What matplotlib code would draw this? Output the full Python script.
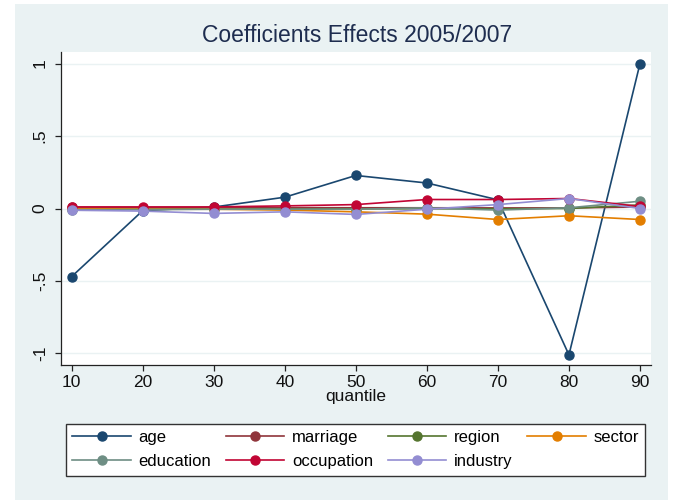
import matplotlib
matplotlib.use("Agg")
import matplotlib.pyplot as plt
from matplotlib.patches import Rectangle

plt.rcParams['font.family'] = ['Liberation Sans', 'DejaVu Sans']

quantiles = [10, 20, 30, 40, 50, 60, 70, 80, 90]

age        = [-0.47, -0.015, 0.010, 0.078, 0.228, 0.176, 0.060, -1.010, 1.000]
marriage   = [0.008, 0.006, 0.006, 0.006, 0.005, 0.005, 0.004, 0.004, 0.010]
region     = [-0.005, -0.005, -0.003, -0.003, -0.002, -0.002, -0.002, 0.000, 0.025]
sector     = [0.000, -0.005, -0.005, -0.011, -0.023, -0.039, -0.076, -0.050, -0.076]
education  = [-0.008, -0.008, -0.005, -0.005, -0.005, 0.005, -0.011, 0.005, 0.050]
occupation = [0.011, 0.011, 0.011, 0.018, 0.027, 0.062, 0.062, 0.069, 0.014]
industry   = [-0.012, -0.018, -0.034, -0.023, -0.041, -0.005, 0.027, 0.069, 0.000]

series = [
    ("age", age, "#1A476F"),
    ("marriage", marriage, "#90353B"),
    ("region", region, "#55752F"),
    ("sector", sector, "#E37E00"),
    ("education", education, "#6E8E84"),
    ("occupation", occupation, "#C10534"),
    ("industry", industry, "#938DD2"),
]

W, H = 677, 500
fig = plt.figure(figsize=(W / 100, H / 100), dpi=100, facecolor="white")

# light bluish-gray graph region
fig.patches.append(Rectangle((15 / W, 0), (668 - 15) / W, (500 - 4) / H,
                             transform=fig.transFigure, facecolor="#EAF2F3",
                             edgecolor="none", zorder=-10))

ax = fig.add_axes([61 / W, 1 - 365 / H, (651 - 61) / W, (365 - 52) / H])
ax.set_facecolor("white")

handles = {}
for name, vals, color in series:
    (ln,) = ax.plot(quantiles, vals, color=color, lw=1.2, marker="o",
                    markersize=6.5, label=name, zorder=3)
    handles[name] = ln

ax.set_xlim(8.5, 91.55)
ax.set_ylim(-1.08, 1.08)
ax.set_xticks(quantiles)
ax.set_xticklabels([str(q) for q in quantiles])
yt = [-1, -0.5, 0, 0.5, 1]
ax.set_yticks(yt)
ax.set_yticklabels(["-1", "-.5", "0", ".5", "1"], rotation=90, va="center")

for y in yt:
    ax.axhline(y, color="#EAF2F3", lw=1.0, zorder=1)

for s in ("top", "right"):
    ax.spines[s].set_visible(False)
for s in ("left", "bottom"):
    ax.spines[s].set_color("#222222")
    ax.spines[s].set_linewidth(0.9)

ax.tick_params(axis="both", direction="out", length=4.5, width=0.9,
               color="#222222", labelsize=12.5, labelcolor="#111111")
ax.tick_params(axis="y", pad=5)
ax.tick_params(axis="x", pad=3)
ax.set_xlabel("quantile", fontsize=12.5, color="#111111", labelpad=-1)

fig.text(357 / W, 1 - 36 / H, "Coefficients Effects 2005/2007", ha="center",
         va="center", fontsize=16.5, color="#1E2D4F")

order = ["age", "education", "marriage", "occupation", "region", "industry", "sector"]
leg = fig.legend([handles[n] for n in order], order, ncol=4,
                 loc="center", bbox_to_anchor=((67 + 644) / 2 / W, 1 - (421 + 478) / 2 / H),
                 fontsize=12, handlelength=3.5, handletextpad=0.45,
                 columnspacing=0.9, labelspacing=0.52, borderpad=0.4,
                 fancybox=False, frameon=True)
leg.get_frame().set_edgecolor("#333333")
leg.get_frame().set_linewidth(1.0)
leg.get_frame().set_facecolor("white")
leg.get_frame().set_alpha(1)

fig.savefig("out.png", dpi=100, facecolor="white")
